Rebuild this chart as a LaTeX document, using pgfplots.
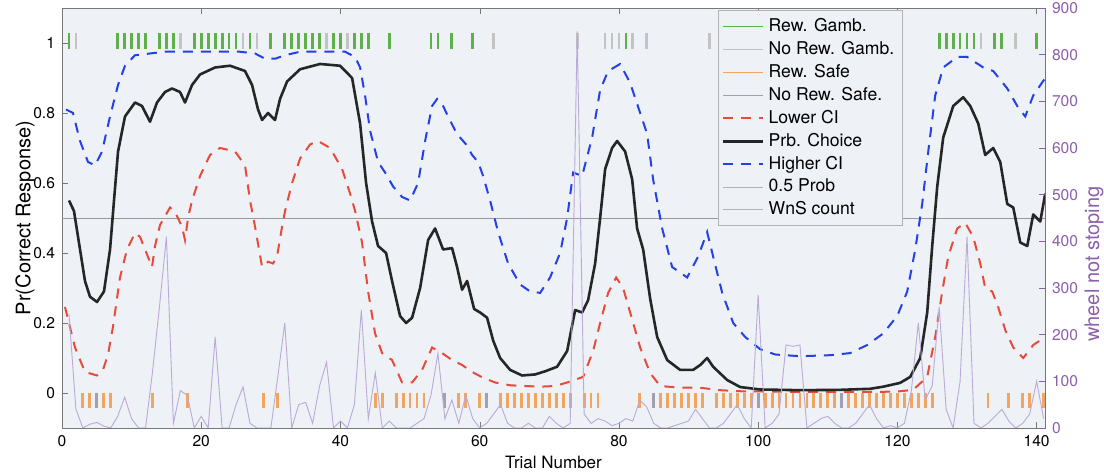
\documentclass[border=0pt]{standalone}
\usepackage{fontspec}
\setmainfont{TeX Gyre Heros}
\usepackage{pgfplots}
\pgfplotsset{compat=1.18}
\definecolor{bgc}{RGB}{238,241,246}
\definecolor{rgamb}{RGB}{95,175,75}
\definecolor{ngamb}{RGB}{195,195,195}
\definecolor{rsafe}{RGB}{242,165,95}
\definecolor{nsafe}{RGB}{160,160,175}
\definecolor{lci}{RGB}{230,75,60}
\definecolor{hci}{RGB}{35,65,230}
\definecolor{wns}{RGB}{185,170,215}
\definecolor{wnsax}{RGB}{140,95,170}
\definecolor{axc}{RGB}{120,120,120}
\begin{document}
\begin{tikzpicture}[font=\fontsize{8.5}{10}\selectfont]
\begin{axis}[name=main, scale only axis, width=491.5pt, height=210pt,
  xmin=0, xmax=141.2, ymin=-0.1, ymax=1.1,
  axis background/.style={fill=bgc},
  axis line style={axc},
  xtick={0,20,...,140}, ytick={0,0.2,0.4,0.6,0.8,1},
  yticklabels={0,0.2,0.4,0.6,0.8,1},
  tick align=inside, ytick pos=left, xtick pos=both,
  major tick length=3pt, tick style={axc},
  tick label style={font=\fontsize{7.8}{9}\selectfont},
  /pgf/number format/assume math mode=true,
  xlabel={Trial Number}, ylabel={Pr(Correct Response)},
  xlabel style={yshift=1.8pt},
  ylabel style={at={([xshift=-18.5pt]axis description cs:0,0.5)}, anchor=center, font=\fontsize{10}{12}\selectfont},
  legend cell align=left,
  legend image code/.code={\draw[#1] (7pt,0pt) -- (27pt,0pt);},
  legend style={at={(0.667,0.995)}, anchor=north west, draw=gray!60, fill=bgc,
    font=\fontsize{8.8}{10}\selectfont, row sep=-0.6pt, inner sep=2pt},
]
\addlegendimage{rgamb, line width=0.8pt}\addlegendentry{Rew. Gamb.}
\addlegendimage{ngamb, line width=0.8pt}\addlegendentry{No Rew. Gamb.}
\addlegendimage{rsafe, line width=0.8pt}\addlegendentry{Rew. Safe}
\addlegendimage{nsafe, line width=0.6pt}\addlegendentry{No Rew. Safe.}
\addlegendimage{lci, line width=1pt, dash pattern=on 5pt off 4pt}\addlegendentry{Lower CI}
\addlegendimage{black!85, line width=1.3pt}\addlegendentry{Prb. Choice}
\addlegendimage{hci, line width=1pt, dash pattern=on 5pt off 4pt}\addlegendentry{Higher CI}
\addlegendimage{gray!60, line width=0.4pt}\addlegendentry{0.5 Prob}
\addlegendimage{gray!60, line width=0.4pt}\addlegendentry{WnS count}

\addplot[gray!80, line width=0.4pt, forget plot] coordinates {(0,0.5)(141.2,0.5)};

% gamble ticks
\addplot[only marks, mark=|, mark size=4pt, mark options={rgamb, line width=1.4pt}, forget plot] coordinates {
(1,1.006)(8,1.006)(9,1.006)(10,1.006)(11,1.006)(12,1.006)(14,1.006)(15,1.006)(16,1.006)
(19,1.006)(20,1.006)(21,1.006)(22,1.006)(23,1.006)(24,1.006)(25,1.006)(27,1.006)(30,1.006)
(32,1.006)(33,1.006)(34,1.006)(35,1.006)(36,1.006)(37,1.006)(39,1.006)(40,1.006)
(42,1.006)(43,1.006)(44,1.006)(47,1.006)(53,1.006)(54,1.006)(56,1.006)(59,1.006)(81,1.006)
(126,1.006)(127,1.006)(128,1.006)(129,1.006)(130,1.006)(131,1.006)(134,1.006)(135,1.006)(140,1.006)};
\addplot[only marks, mark=|, mark size=4pt, mark options={ngamb, line width=1.4pt}, forget plot] coordinates {
(2,1.006)(17,1.006)(26,1.006)(28,1.006)(38,1.006)(41,1.006)(62,1.006)(74,1.006)(78,1.006)
(79,1.006)(80,1.006)(82,1.006)(84,1.006)(93,1.006)(132,1.006)(137,1.006)};
% safe ticks
\addplot[only marks, mark=|, mark size=3.8pt, mark options={rsafe, line width=1.4pt}, forget plot] coordinates {
(3,-0.021)(4,-0.021)(6,-0.021)(7,-0.021)(13,-0.021)(18,-0.021)(29,-0.021)(31,-0.021)
(45,-0.021)(46,-0.021)(48,-0.021)(49,-0.021)(50,-0.021)(51,-0.021)(52,-0.021)(57,-0.021)(58,-0.021)(60,-0.021)
(63,-0.021)(64,-0.021)(65,-0.021)(66,-0.021)(67,-0.021)(68,-0.021)(69,-0.021)(70,-0.021)(71,-0.021)(72,-0.021)(73,-0.021)
(75,-0.021)(76,-0.021)(77,-0.021)(83,-0.021)(86,-0.021)(87,-0.021)(88,-0.021)(89,-0.021)(90,-0.021)(91,-0.021)(92,-0.021)
(94,-0.021)(95,-0.021)(96,-0.021)(97,-0.021)(98,-0.021)(99,-0.021)(101,-0.021)(102,-0.021)(103,-0.021)(104,-0.021)
(105,-0.021)(106,-0.021)(107,-0.021)(108,-0.021)(109,-0.021)(110,-0.021)(111,-0.021)(113,-0.021)(114,-0.021)(115,-0.021)
(116,-0.021)(117,-0.021)(118,-0.021)(119,-0.021)(120,-0.021)(121,-0.021)(122,-0.021)(123,-0.021)(124,-0.021)(125,-0.021)
(133,-0.021)(136,-0.021)(138,-0.021)(139,-0.021)(141,-0.021)};
\addplot[only marks, mark=|, mark size=3.8pt, mark options={nsafe, line width=1.4pt}, forget plot] coordinates {
(5,-0.021)(55,-0.021)(61,-0.021)(85,-0.021)(100,-0.021)(112,-0.021)};

% Lower CI
\addplot[lci, line width=1pt, dash pattern=on 5pt off 4pt, forget plot] coordinates {
(0.43,0.246)(1.87,0.13)(3.30,0.06)(5.03,0.05)(5.89,0.066)(6.61,0.11)(7.33,0.19)(8.33,0.33)(9.34,0.41)(10.49,0.457)(11.21,0.446)(11.93,0.41)(12.93,0.36)(13.36,0.42)(14.08,0.48)(15.52,0.53)(16.24,0.517)(17.24,0.475)(17.67,0.437)(18.10,0.50)(18.68,0.55)(19.83,0.62)(21.26,0.68)(22.70,0.70)(24.86,0.69)(26.29,0.65)(27.01,0.55)(27.73,0.475)(28.74,0.36)(29.60,0.375)(30.32,0.37)(30.89,0.39)(31.61,0.475)(32.04,0.52)(33.05,0.60)(34.20,0.67)(35.63,0.71)(36.78,0.72)(38.51,0.70)(40.23,0.64)(41.38,0.57)(42.10,0.52)(43.10,0.43)(43.97,0.29)(44.97,0.17)(45.98,0.114)(47.41,0.094)(48.85,0.03)(50.29,0.03)(51.72,0.066)(53.16,0.13)(54.60,0.114)(56.03,0.094)(57.47,0.08)(58.91,0.06)(60.34,0.045)(62.21,0.03)(64.37,0.022)(66.52,0.02)(68.68,0.018)(70.83,0.02)(72.56,0.03)(74.86,0.046)(76.29,0.12)(77.30,0.2)(78.45,0.286)(79.60,0.33)(80.60,0.30)(81.61,0.23)(83.05,0.13)(84.48,0.057)(85.92,0.02)(88.79,0.015)(91.67,0.015)(94.54,0.008)(97.41,0.005)(106.03,0.003)(117.53,0.003)(120.40,0.005)(122.27,0.009)(124.28,0.046)(125.43,0.16)(126.44,0.29)(127.30,0.39)(128.59,0.47)(129.74,0.486)(130.89,0.446)(131.90,0.37)(132.61,0.30)(133.62,0.29)(134.48,0.245)(135.49,0.18)(136.64,0.13)(138.07,0.10)(139.51,0.137)(141.24,0.16)};

% Higher CI
\addplot[hci, line width=1pt, dash pattern=on 5pt off 4pt, forget plot] coordinates {
(0.57,0.81)(1.58,0.80)(2.59,0.72)(3.74,0.66)(4.74,0.65)(5.75,0.69)(6.90,0.79)(8.05,0.88)(9.05,0.935)(10.49,0.965)(12.64,0.97)(14.80,0.975)(16.95,0.975)(19.83,0.975)(22.70,0.975)(25.57,0.975)(27.73,0.97)(29.17,0.955)(30.60,0.955)(32.04,0.965)(34.20,0.975)(37.07,0.975)(40.66,0.975)(42.10,0.96)(42.82,0.93)(43.53,0.85)(44.25,0.75)(45.40,0.66)(46.41,0.63)(47.56,0.59)(48.85,0.56)(50.00,0.55)(51.15,0.60)(52.16,0.72)(53.16,0.82)(53.88,0.84)(54.74,0.82)(55.46,0.79)(56.47,0.75)(57.18,0.73)(58.05,0.71)(58.91,0.68)(59.77,0.66)(60.49,0.62)(61.49,0.55)(62.64,0.46)(64.08,0.37)(65.80,0.31)(67.24,0.29)(68.68,0.286)(70.11,0.33)(71.55,0.40)(72.56,0.50)(73.42,0.63)(74.71,0.62)(76.15,0.73)(77.30,0.866)(78.45,0.92)(80.17,0.94)(81.61,0.886)(83.05,0.80)(84.05,0.74)(84.91,0.61)(86.21,0.47)(87.64,0.36)(89.80,0.33)(91.38,0.39)(92.67,0.46)(93.53,0.39)(94.83,0.286)(96.41,0.20)(98.13,0.16)(100.29,0.125)(102.44,0.11)(106.03,0.105)(110.34,0.108)(113.22,0.114)(115.66,0.137)(117.96,0.17)(119.97,0.22)(121.41,0.29)(122.56,0.41)(123.56,0.54)(124.43,0.69)(125.43,0.85)(126.58,0.93)(128.59,0.96)(130.03,0.96)(132.33,0.93)(133.76,0.92)(135.78,0.87)(137.21,0.82)(138.36,0.79)(139.51,0.85)(141.24,0.90)};

% Prb. Choice
\addplot[black!85, line width=1.3pt, line join=round, forget plot] coordinates {
(1.01,0.55)(1.72,0.52)(2.59,0.41)(3.30,0.32)(4.02,0.275)(5.03,0.26)(6.03,0.29)(6.90,0.41)(7.47,0.55)(8.05,0.69)(9.05,0.79)(10.49,0.83)(11.49,0.82)(12.64,0.775)(13.65,0.83)(14.80,0.86)(15.80,0.87)(16.95,0.86)(17.67,0.83)(18.68,0.88)(19.83,0.91)(21.98,0.93)(24.14,0.935)(26.29,0.92)(27.30,0.88)(28.16,0.81)(28.74,0.78)(29.60,0.80)(30.60,0.78)(31.32,0.84)(32.33,0.89)(34.20,0.925)(37.07,0.94)(39.94,0.935)(41.67,0.90)(42.82,0.77)(43.68,0.60)(44.54,0.49)(45.40,0.42)(46.55,0.40)(47.41,0.32)(48.56,0.22)(49.43,0.20)(50.29,0.215)(51.44,0.30)(52.59,0.437)(53.59,0.47)(54.74,0.41)(56.03,0.414)(56.75,0.36)(57.47,0.295)(58.19,0.32)(59.20,0.24)(60.06,0.23)(61.06,0.215)(61.93,0.15)(62.93,0.10)(64.37,0.066)(66.09,0.05)(67.96,0.053)(69.40,0.062)(71.12,0.075)(72.56,0.12)(73.71,0.237)(74.71,0.23)(75.57,0.265)(76.58,0.37)(77.30,0.50)(78.02,0.64)(79.02,0.70)(79.74,0.72)(80.89,0.69)(81.90,0.61)(82.61,0.47)(83.48,0.41)(84.48,0.27)(85.49,0.16)(86.93,0.094)(88.79,0.066)(90.66,0.066)(91.67,0.08)(92.67,0.10)(93.53,0.075)(95.55,0.037)(97.41,0.017)(100.29,0.01)(106.03,0.008)(111.78,0.009)(116.09,0.012)(117.96,0.018)(120.40,0.029)(121.84,0.046)(123.28,0.10)(124.28,0.23)(125.00,0.42)(125.72,0.59)(126.58,0.73)(128.02,0.82)(129.45,0.845)(130.46,0.82)(131.61,0.77)(132.61,0.68)(133.76,0.70)(134.77,0.66)(135.78,0.54)(136.64,0.53)(137.64,0.43)(138.65,0.42)(139.51,0.51)(140.52,0.49)(141.24,0.57)};
\end{axis}

\begin{axis}[scale only axis, width=491.5pt, height=210pt,
  xmin=0, xmax=141.2, ymin=0, ymax=900,
  axis y line*=right, axis x line=none,
  ytick={0,100,...,900}, tick align=inside, major tick length=3pt,
  y axis line style={wnsax}, ytick style={wnsax}, yticklabel style={wnsax},
  tick label style={font=\fontsize{7.8}{9}\selectfont},
  /pgf/number format/assume math mode=true,
  ylabel={wheel not stoping},
  ylabel style={wnsax, at={([xshift=24.5pt]axis description cs:1,0.39)}, anchor=center, font=\fontsize{10}{12}\selectfont},
]
\addplot[wns, line width=0.45pt] coordinates {
(1,245)(2,40)(3,0)(4,8)(5,12)(6,4)(7,0)(8,25)(9,66)(10,20)(11,0)(12,0)(13,120)(14,260)(15,410)(16,10)(17,80)(18,70)(19,0)(20,25)(21,0)(22,195)(23,0)(24,0)(25,50)(26,88)(27,10)(28,0)(29,0)(30,0)(31,110)(32,225)(33,0)(34,50)(35,55)(36,10)(37,90)(38,141)(39,0)(40,15)(41,0)(42,50)(43,253)(44,20)(45,118)(46,0)(47,15)(48,0)(49,0)(50,0)(51,10)(52,20)(53,70)(54,160)(55,20)(56,60)(57,10)(58,70)(59,20)(60,0)(61,10)(62,30)(63,50)(64,10)(65,0)(66,0)(67,10)(68,0)(69,0)(70,25)(71,10)(72,0)(73,10)(74,850)(75,30)(76,10)(77,20)(78,15)(79,5)(80,10)(81,20)(82,15)(83,60)(84,45)(85,10)(86,0)(87,0)(88,5)(89,10)(90,15)(91,40)(92,20)(93,0)(94,0)(95,10)(96,30)(97,50)(98,20)(99,0)(100,285)(101,0)(102,10)(103,30)(104,178)(105,175)(106,178)(107,0)(108,10)(109,20)(110,25)(111,10)(112,0)(113,0)(114,10)(115,30)(116,50)(117,20)(118,0)(119,5)(120,0)(121,10)(122,80)(123,225)(124,60)(125,90)(126,260)(127,40)(128,0)(129,100)(130,410)(131,10)(132,0)(133,10)(134,25)(135,40)(136,15)(137,0)(138,10)(139,30)(140,100)(141,20)};
\end{axis}
\pgfresetboundingbox
\path[use as bounding box] ([shift={(-31pt,-23pt)}]main.south west) rectangle ([shift={(29.5pt,4pt)}]main.north east);
\end{tikzpicture}
\end{document}
